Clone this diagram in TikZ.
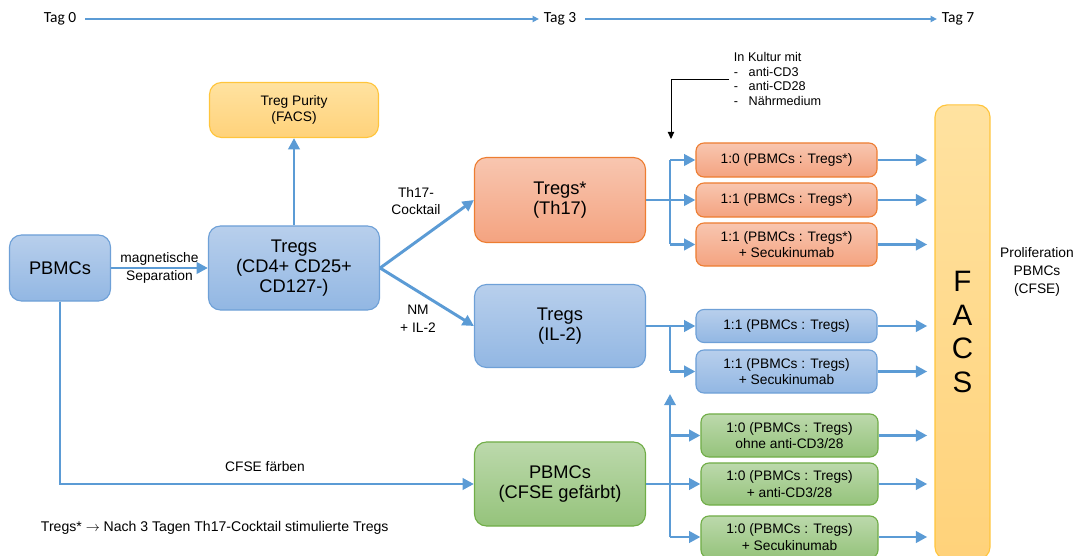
\documentclass[tikz,border=0pt]{standalone}
\usepackage{fontspec}
\setmainfont{Liberation Sans}
\newfontfamily\tagfont{Carlito}
\usetikzlibrary{arrows.meta,positioning}

\definecolor{flowblue}{RGB}{91,155,213}
\definecolor{bluetop}{RGB}{184,207,236}
\definecolor{bluebot}{RGB}{146,183,227}
\definecolor{blueline}{RGB}{110,160,215}
\definecolor{orgtop}{RGB}{248,198,176}
\definecolor{orgbot}{RGB}{244,163,128}
\definecolor{orgline}{RGB}{237,125,49}
\definecolor{grntop}{RGB}{188,217,172}
\definecolor{grnbot}{RGB}{149,195,123}
\definecolor{grnline}{RGB}{112,173,71}
\definecolor{yeltop}{RGB}{255,226,160}
\definecolor{yelbot}{RGB}{255,210,122}
\definecolor{yelline}{RGB}{255,197,60}

\begin{document}
\begin{tikzpicture}[x=0.025cm, y=-0.025cm,
  flow/.style = {draw=flowblue, line width=2.1pt},
  arr/.style = {flow, -{Triangle[length=8pt,width=8pt]}},
  tline/.style = {draw=flowblue, line width=1pt, -{Triangle[length=4.5pt,width=4.5pt]}},
  note/.style = {draw=black, line width=0.6pt, -{Triangle[length=5pt,width=4.5pt]}},
  box/.style = {rounded corners=0.3cm, line width=0.8pt, align=center, inner sep=2pt,
    font=\fontsize{13}{14.5}\selectfont, minimum width=4.275cm},
  sbox/.style = {rounded corners=0.2cm, line width=0.8pt, align=center, inner sep=2pt,
    font=\fontsize{9.8}{11.5}\selectfont, minimum width=4.525cm},
  blue/.style = {draw=blueline, top color=bluetop, bottom color=bluebot},
  org/.style = {draw=orgline, top color=orgtop, bottom color=orgbot},
  grn/.style = {draw=grnline, top color=grntop, bottom color=grnbot},
  yel/.style = {draw=yelline, top color=yeltop, bottom color=yelbot},
  lab/.style = {align=center, font=\fontsize{9.8}{12.5}\selectfont},
  tag/.style = {font=\tagfont\fontsize{11}{13}\selectfont}
]
\useasboundingbox (0,0) rectangle (1078,556);

\node[tag] (t0) at (60,19) {Tag 0};
\node[tag] (t3) at (560,19) {Tag 3};
\node[tag] (t7) at (958,19) {Tag 7};
\draw[tline, shorten <=3pt] (t0) -- (t3);
\draw[tline, shorten <=3pt] (t3) -- (t7);

\node[box, blue, minimum width=2.525cm, minimum height=1.65cm] (pbmc) at (60,268) {PBMCs};
\node[box, blue, minimum height=2.1cm] (tregs) at (294,268) {Tregs\\(CD4+ CD25+\\CD127-)};
\node[box, yel, minimum width=4.225cm, minimum height=1.375cm,
  font=\fontsize{9.8}{11.8}\selectfont] (purity) at (294,110) {Treg Purity\\(FACS)};
\node[box, org, minimum height=2.125cm] (th17) at (560,200) {Tregs*\\(Th17)};
\node[box, blue, minimum height=2.075cm] (il2) at (560,326) {Tregs\\(IL-2)};
\node[box, grn, minimum height=2.1cm] (cfse) at (560,484) {PBMCs\\(CFSE gefärbt)};

\node[sbox, org, minimum height=0.85cm] (o1) at (786.5,160) {1:0 (PBMCs : Tregs*)};
\node[sbox, org, minimum height=0.85cm] (o2) at (786.5,200) {1:1 (PBMCs : Tregs*)};
\node[sbox, org, minimum height=1.075cm] (o3) at (786.5,244.5) {1:1 (PBMCs : Tregs*)\\+ Secukinumab};
\node[sbox, blue, minimum height=0.825cm] (b1) at (786.5,326) {1:1 (PBMCs : Tregs)};
\node[sbox, blue, minimum height=1.075cm] (b2) at (786.5,371.5) {1:1 (PBMCs : Tregs)\\+ Secukinumab};
\node[sbox, grn, minimum width=4.425cm, minimum height=1.075cm] (g1) at (789.5,435.5) {1:0 (PBMCs : Tregs)\\ohne anti-CD3/28};
\node[sbox, grn, minimum width=4.425cm, minimum height=1.05cm] (g2) at (789.5,484) {1:0 (PBMCs : Tregs)\\+ anti-CD3/28};
\node[sbox, grn, minimum width=4.425cm, minimum height=1.05cm] (g3) at (789.5,537) {1:0 (PBMCs : Tregs)\\+ Secukinumab};

\node[box, yel, minimum width=1.375cm, minimum height=11.35cm,
  font=\fontsize{21}{24}\selectfont] (facs) at (962.5,332) {F\\A\\C\\S};
\node[lab] (prolif) at (1037,272) {Proliferation\\PBMCs\\(CFSE)};

\node[align=left, anchor=west, font=\fontsize{9}{10.6}\selectfont] (kultur) at (729,79)
  {In Kultur mit\\-\hspace{7.5pt}anti-CD3\\-\hspace{7.5pt}anti-CD28\\-\hspace{7.5pt}Nährmedium};
\coordinate (kd) at (671,139);
\draw[note] (kultur.west) -| (kd);

\draw[arr] (pbmc) -- node[midway, above, lab, inner sep=1pt] {magnetische}
  node[midway, below, lab, inner sep=1pt] {Separation} (tregs);
\draw[arr] (tregs.north) -- (purity.south);
\draw[arr] (tregs.east) -- (th17.west);
\draw[arr] (tregs.east) -- (il2.west);
\node[lab] (cock) at (416,201) {Th17-\\Cocktail};
\node[lab] (nm) at (418,319) {NM\\+ IL-2};

\draw[arr] (pbmc.south) |- (cfse.west);
\node[lab] (farb) at (265,467) {CFSE färben};

\coordinate (of) at (670,200);
\draw[flow] (th17.east) -- (of);
\draw[flow] (of |- o1.west) -- (of |- o3.west);
\foreach \n in {o1,o2,o3} \draw[arr] (of |- \n.west) -- (\n.west);

\coordinate (bf) at (670,326);
\draw[flow] (il2.east) -- (bf);
\draw[flow] (bf) -- (bf |- b2.west);
\foreach \n in {b1,b2} \draw[arr] (bf |- \n.west) -- (\n.west);

\coordinate (gf) at (670,484);
\coordinate (gup) at (670,394);
\draw[flow] (cfse.east) -- (gf);
\draw[arr] (gf |- g3.west) -- (gup);
\foreach \n in {g1,g2,g3} \draw[arr] (gf |- \n.west) -- (\n.west);

\foreach \n in {o1,o2,o3,b1,b2,g1,g2,g3}
  \draw[arr, shorten >=0.18cm] (\n.east) -- (\n.east -| facs.west);

\node[anchor=west, font=\fontsize{10}{12}\selectfont] (foot) at (36,528)
  {Tregs* $\rightarrow$ Nach 3 Tagen Th17-Cocktail stimulierte Tregs};
\end{tikzpicture}
\end{document}
